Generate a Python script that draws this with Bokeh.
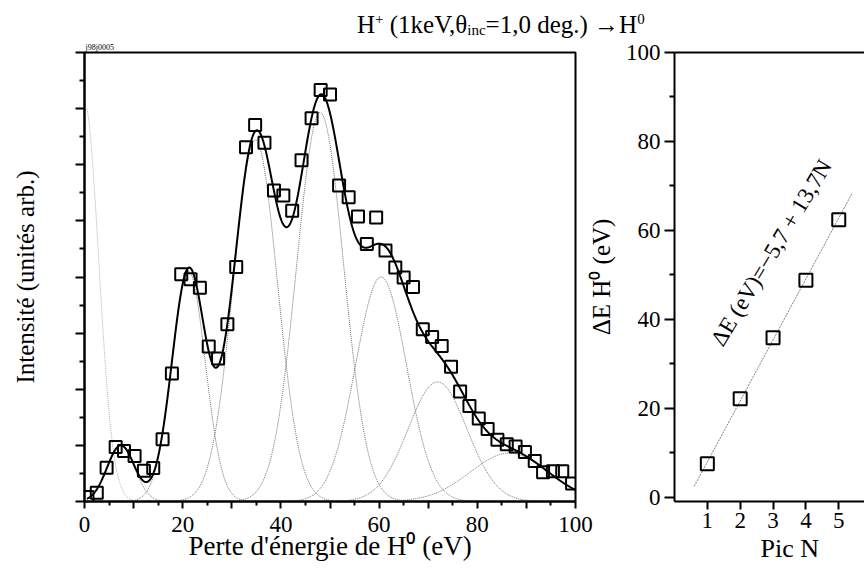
import numpy as np
from bokeh.plotting import figure
from bokeh.models import FixedTicker, LinearAxis, Label, Div, Range1d, NoOverlap, Title
from bokeh.layouts import row, column
from bokeh.embed import file_html
from bokeh.resources import INLINE

# ---------------- data ----------------
# Left panel: energy-loss spectrum of H0 (eV) vs intensity (arb. units)
energy_loss = [0.6, 2.5, 4.5, 6.35, 8.05, 10.2, 12.1, 14.0, 15.9, 17.8,
               19.7, 21.6, 23.5, 25.3, 27.2, 29.1, 30.9, 32.9, 34.75, 36.65,
               38.6, 40.5, 42.3, 44.2, 46.25, 48.1, 50.0, 51.85, 53.8, 55.7,
               57.5, 59.4, 61.3, 63.3, 65.0, 66.9, 68.9, 70.8, 72.75, 74.65,
               76.5, 78.4, 80.3, 82.1, 84.1, 86.0, 87.8, 89.7, 91.7, 93.4,
               95.4, 97.3, 99.3]
intensity = [0.08, 0.155, 0.60, 0.97, 0.90, 0.81, 0.55, 0.595, 1.11, 2.28,
             4.05, 3.96, 3.81, 2.76, 2.55, 3.16, 4.18, 6.31, 6.71, 6.39,
             5.54, 5.45, 5.18, 6.08, 6.83, 7.33, 7.25, 5.63, 5.42, 5.08,
             4.59, 5.06, 4.47, 4.17, 3.99, 3.82, 3.07, 2.93, 2.77, 2.40,
             1.96, 1.70, 1.48, 1.29, 1.10, 1.02, 0.98, 0.88, 0.72, 0.52,
             0.54, 0.54, 0.32]

# Gaussian components of the fit (peak 0 = elastic peak, not in the sum)
peak_centers = [0.0, 7.4, 21.2, 34.8, 48.0, 60.4, 71.9, 86.5]
peak_heights = [7.1, 1.0, 4.1, 6.44, 6.93, 4.0, 2.13, 0.86]
peak_widths = [2.9, 2.8, 3.4, 4.5, 4.8, 5.2, 6.0, 8.0]

x_major_ticks = [0, 10, 20, 30, 40, 50, 60, 70, 80, 90, 100]   # labelled: 0, 20, ..., 100
x_minor_ticks = [5, 15, 25, 35, 45, 55, 65, 75, 85, 95]
y_major_ticks = [0, 1, 2, 3, 4, 5, 6, 7, 8]
y_minor_ticks = [0.5, 1.5, 2.5, 3.5, 4.5, 5.5, 6.5, 7.5]

# Right panel: peak number vs energy loss
pic_n = [1, 2, 3, 4, 5]
delta_e = [7.6, 22.2, 35.9, 48.8, 62.4]
fit_intercept = -5.7
fit_slope = 13.7
fit_n = [0.6, 5.4]
r_x_ticks = [1, 2, 3, 4, 5]
r_y_ticks = [0, 20, 40, 60, 80, 100]
r_y_minor = [10, 30, 50, 70, 90]

FONT = "'Liberation Serif', serif"

# ---------------- title ----------------
sup = '<span style="font-size:0.6em;position:relative;top:-0.6em">%s</span>'
sub = '<span style="font-size:0.6em;position:relative;top:0.15em">%s</span>'
title_html = (
    '<div style="font-family:\'Liberation Serif\',serif;font-size:25px;line-height:25px;'
    'padding:4px 0 0 349px;white-space:nowrap;color:#000">'
    'H' + (sup % '+') + ' (1keV,&theta;' + (sub % 'inc') + '=1,0 deg.) &rarr;H' + (sup % '0') +
    '</div>')
title = Div(text=title_html, width=856, height=32, margin=(0, 0, 0, 0))


def style_axis(ax, tick_out, minor_out):
    ax.axis_line_width = 2
    ax.major_tick_line_width = 2
    ax.minor_tick_line_width = 2
    ax.major_tick_in = 0
    ax.minor_tick_in = 0
    ax.major_tick_out = tick_out
    ax.minor_tick_out = minor_out
    ax.major_label_text_font = FONT
    ax.major_label_text_font_size = "23px"
    ax.major_label_text_color = "black"
    ax.axis_label_text_font = FONT
    ax.axis_label_text_font_size = "26px"
    ax.axis_label_text_font_style = "normal"
    ax.axis_label_text_color = "black"


# ---------------- left panel ----------------
p1 = figure(width=596, height=530, x_range=Range1d(0, 100), y_range=Range1d(0, 8.0),
            output_backend="svg", toolbar_location=None,
            min_border_left=74, min_border_right=29, min_border_top=12, min_border_bottom=69)
p1.grid.visible = False
p1.outline_line_color = "black"
p1.outline_line_width = 2
p1.background_fill_color = "white"
p1.border_fill_color = "white"
p1.title.text = "j98j0005"
p1.title.align = "left"
p1.title.offset = 1
p1.title.standoff = 1
p1.title.text_font = FONT
p1.title.text_font_size = "8px"
p1.title.text_font_style = "normal"
p1.title.text_color = "black"

xa = p1.xaxis[0]
xa.ticker = FixedTicker(ticks=x_major_ticks, minor_ticks=x_minor_ticks)
xa.major_label_policy = NoOverlap(min_distance=40)
style_axis(xa, 7, 4)
xa.major_label_standoff = 8
xa.axis_label = "Perte d'énergie de H⁰ (eV)"
xa.axis_label_text_font_size = "27px"
xa.axis_label_standoff = -4

ya = p1.yaxis[0]
ya.ticker = FixedTicker(ticks=y_major_ticks, minor_ticks=y_minor_ticks)
style_axis(ya, 9, 5)
ya.major_label_text_color = None
ya.major_label_text_font_size = "10px"
ya.major_label_standoff = 0
ya.axis_label = "Intensité (unités arb.)"
ya.axis_label_text_font_size = "25px"
ya.axis_label_standoff = 37

xs = np.linspace(0.5, 100, 800)
fit = np.zeros_like(xs)
for i, (c, h, w) in enumerate(zip(peak_centers, peak_heights, peak_widths)):
    comp = h * np.exp(-(xs - c) ** 2 / (2 * w * w))
    if i > 0:
        fit += comp
    p1.line(xs, comp, line_color="#b0b0b0" if i == 0 else "#707070",
            line_width=1, line_dash="1 1")
p1.line(xs, fit, line_color="black", line_width=2)
p1.scatter(energy_loss, intensity, marker="square", size=12, line_color="black",
           line_width=2, fill_color=None)

# ---------------- right panel ----------------
p2 = figure(width=284, height=530, x_range=Range1d(0, 5.784), y_range=Range1d(-0.9, 100),
            output_backend="svg", toolbar_location=None, margin=(0, 0, 0, -24),
            min_border_left=94, min_border_right=0, min_border_top=12, min_border_bottom=69)
p2.grid.visible = False
p2.outline_line_color = None
p2.background_fill_color = "white"
p2.border_fill_color = None

xb = p2.xaxis[0]
xb.ticker = FixedTicker(ticks=r_x_ticks, minor_ticks=[])
style_axis(xb, 8, 0)
xb.major_label_standoff = 3

yb = p2.yaxis[0]
yb.ticker = FixedTicker(ticks=r_y_ticks, minor_ticks=r_y_minor)
style_axis(yb, 10, 5)
yb.major_label_standoff = 4
yb.axis_label = "ΔE H⁰ (eV)"
yb.axis_label_text_font_size = "25px"
yb.axis_label_standoff = 8

top = LinearAxis(ticker=FixedTicker(ticks=[]), axis_line_width=2,
                 major_label_text_font_size="10px", major_label_text_color=None,
                 major_tick_out=0, minor_tick_out=0, major_tick_in=0, minor_tick_in=0)
p2.add_layout(top, "above")

p2.add_layout(Title(text="Pic N", align="left", offset=86, standoff=2,
                    text_font=FONT, text_font_size="26px", text_font_style="normal",
                    text_color="black"), "below")

fit_e = [fit_intercept + fit_slope * n for n in fit_n]
p2.line(fit_n, fit_e, line_color="#808080", line_width=1, line_dash="2 1")
p2.scatter(pic_n, delta_e, marker="square", size=13, line_color="black",
           line_width=2, fill_color=None)
p2.add_layout(Label(x=2.95, y=55, text="ΔE (eV)=−5,7 + 13,7N", angle=np.radians(59),
                    text_align="center", text_baseline="middle", text_font=FONT,
                    text_font_size="23px", text_color="black"))

layout = column(title, row(p1, p2), margin=(8, 0, 0, 8))
open("out.html", "w").write(file_html(layout, INLINE))
